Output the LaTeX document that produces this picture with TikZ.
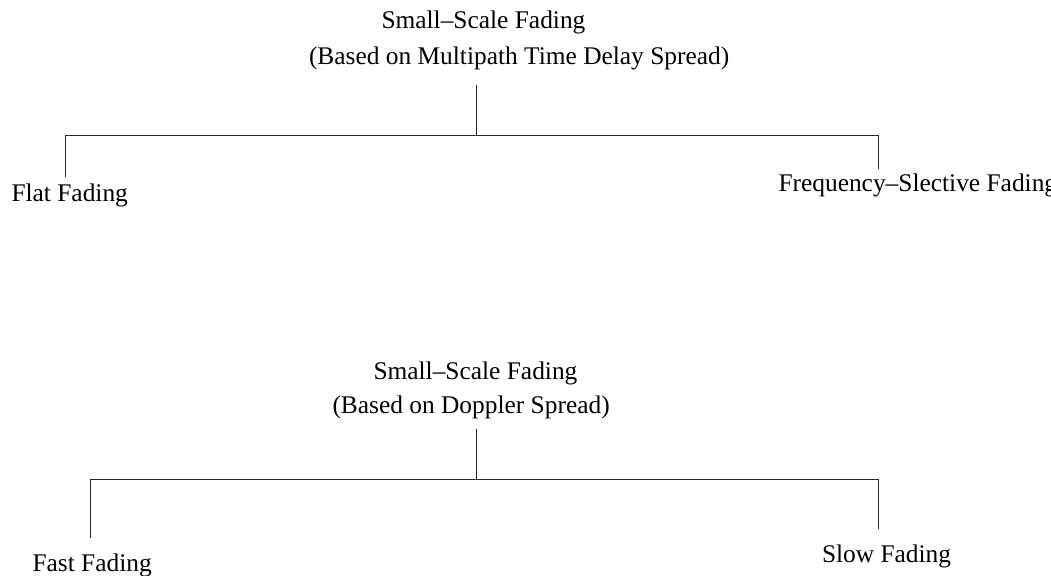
\documentclass[tikz,border=0pt]{standalone}
\usepackage{fontspec}
\setmainfont{Liberation Serif}
\begin{document}
\begin{tikzpicture}[x=1pt,y=-1pt,
  lbl/.style={anchor=base west,inner sep=0pt,outer sep=0pt,font=\fontsize{25.4}{30}\selectfont},
  conn/.style={draw=black!85,line width=0.9pt}]
\useasboundingbox (0,0) rectangle (1051,575);
\clip (0,0) rectangle (1051,575);
% top tree labels
\node[lbl] (tA) at (381.5,28.3) {Small–Scale Fading};
\node[lbl] (tB) at (309,65) {(Based on Multipath Time Delay Spread)};
\node[lbl] (flat) at (11.5,201.7) {Flat Fading};
\node[lbl] (freq) at (778.5,191.7) {Frequency–Slective Fading};
% bottom tree labels
\node[lbl] (bA) at (373.5,379) {Small–Scale Fading};
\node[lbl] (bB) at (332.5,413.3) {(Based on Doppler Spread)};
\node[lbl] (fast) at (32.5,571.7) {Fast Fading};
\node[lbl] (slow) at (822,562.7) {Slow Fading};
% top tree junctions
\coordinate (tTop) at (476,85);
\coordinate (tMid) at (476,135);
\coordinate (tL) at (65.7,135);
\coordinate (tR) at (878.3,135);
\coordinate (tLend) at (65.7,176.7);
\coordinate (tRend) at (878.3,169);
\draw[conn] (tTop) -- (tMid);
\draw[conn] (tLend) -- (tL) -- (tR) -- (tRend);
% bottom tree junctions
\coordinate (bTop) at (476,429);
\coordinate (bMid) at (476,479.3);
\coordinate (bL) at (90.7,479.3);
\coordinate (bR) at (878.3,479.3);
\coordinate (bLend) at (90.7,537.7);
\coordinate (bRend) at (878.3,529.3);
\draw[conn] (bTop) -- (bMid);
\draw[conn] (bLend) -- (bL) -- (bR) -- (bRend);
\end{tikzpicture}
\end{document}
